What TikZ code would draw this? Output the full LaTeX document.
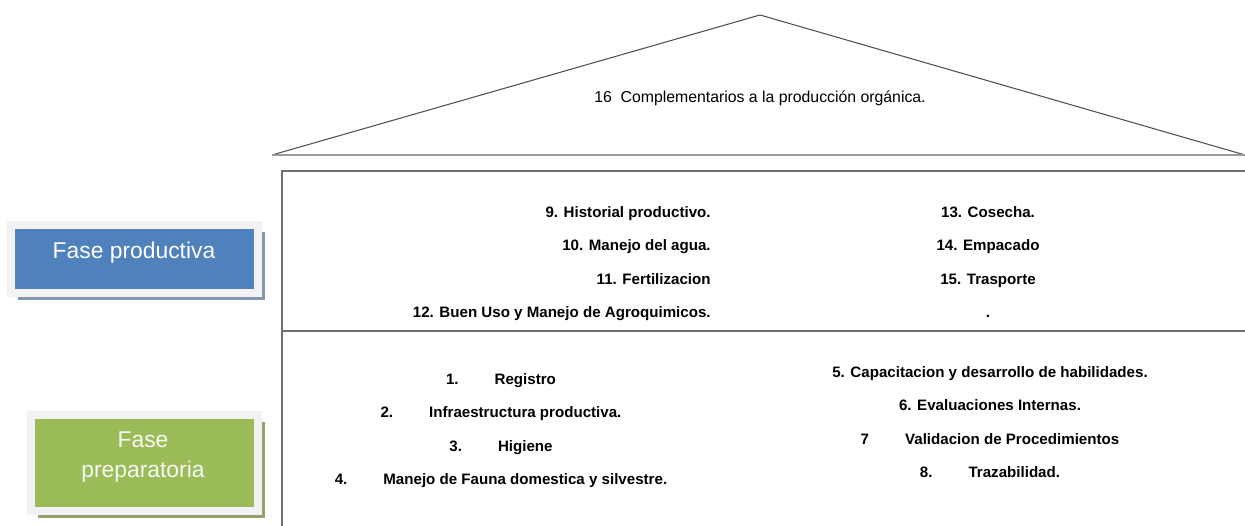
\documentclass[tikz,border=0pt]{standalone}
\usepackage{fontspec}
\setmainfont{Liberation Sans}
\usepackage{tikz}
\usetikzlibrary{positioning, shadows}

\definecolor{faseblue}{HTML}{4F81BD}
\definecolor{fasegreen}{HTML}{9BBB59}
\definecolor{framegray}{HTML}{F2F2F2}
\definecolor{blueshade}{HTML}{8497B0}
\definecolor{greenshade}{HTML}{98A070}
\definecolor{linegray}{HTML}{707070}
\definecolor{eavegray}{HTML}{9A9A9A}
\definecolor{roofgray}{HTML}{505050}

\newcommand{\itemgap}{\hspace{0.72cm}}

\begin{document}
\begin{tikzpicture}[
    x=0.02cm, y=-0.02cm,
    fasebox/.style={draw=framegray, line width=0.16cm, inner sep=0pt},
    fasetext/.style={align=center, font=\fontsize{13}{17}\selectfont},
    rooftext/.style={font=\fontsize{9}{11}\selectfont, inner sep=0pt},
    item/.style={font=\fontsize{8.6}{10}\selectfont\bfseries, inner sep=0pt, text height=7pt, text depth=2pt},
    wall/.style={draw=linegray, line width=0.04cm},
    roofline/.style={draw=roofgray, line width=0.6pt},
    eaveline/.style={draw=eavegray, line width=0.04cm},
    node distance=0.34cm
]

\useasboundingbox (0,0) rectangle (1245,526);

% techo
\coordinate (roofL) at (272,155);
\coordinate (roofT) at (760,15);
\coordinate (roofR) at (1245,155);
\draw[roofline] (roofL) -- (roofT) -- (roofR);
\draw[eaveline] (roofL) -- (roofR);
\node[rooftext] (complement) at (760,98) {16\ \ Complementarios a la producción orgánica.};

% paredes
\coordinate (wallTL) at (282,171);
\coordinate (wallTR) at (1245,171);
\coordinate (wallML) at (282,331);
\coordinate (wallMR) at (1245,331);
\coordinate (wallBL) at (282,526);
\draw[wall] (wallTR) -- (wallTL) -- (wallBL);
\draw[wall] (wallML) -- (wallMR);

% fases
\node[fasebox, fill=faseblue, minimum width=4.94cm, minimum height=1.37cm,
      drop shadow={shadow xshift=0.14cm, shadow yshift=-0.14cm, fill=blueshade, opacity=1}] (prodBox) at (134.5,259) {};
\node[fasetext, text=white] (prodText) at (134,253) {Fase productiva};
\node[fasebox, fill=fasegreen, minimum width=4.54cm, minimum height=1.93cm,
      drop shadow={shadow xshift=0.14cm, shadow yshift=-0.14cm, fill=greenshade, opacity=1}] (prepBox) at (144.5,462.75) {};
\node[fasetext, text=white!92!fasegreen] (prepText) at (143,457) {Fase\\preparatoria};

% fase productiva
\node[item, anchor=east] (historial) at (711,213) {9. Historial productivo.};
\node[item, below=of historial.south east, anchor=north east] (agua) {10. Manejo del agua.};
\node[item, below=of agua.south east, anchor=north east] (fertil) {11. Fertilizacion};
\node[item, below=of fertil.south east, anchor=north east] (agroquim) {12. Buen Uso y Manejo de Agroquimicos.};
\node[item] (cosecha) at (988,213) {13. Cosecha.};
\node[item, below=of cosecha] (empacado) {14. Empacado};
\node[item, below=of empacado] (trasporte) {15. Trasporte};
\node[item, below=of trasporte] (punto) {.};

% fase preparatoria
\node[item] (registro) at (501,380) {1.\itemgap Registro};
\node[item, below=of registro] (infra) {2.\itemgap Infraestructura productiva.};
\node[item, below=of infra] (higiene) {3.\itemgap Higiene};
\node[item, below=of higiene] (fauna) {4.\itemgap Manejo de Fauna domestica y silvestre.};
\node[item] (capacit) at (990,373) {5. Capacitacion y desarrollo de habilidades.};
\node[item, below=of capacit] (evalua) {6. Evaluaciones Internas.};
\node[item, below=of evalua] (valida) {7\itemgap Validacion de Procedimientos};
\node[item, below=of valida] (traza) {8.\itemgap Trazabilidad.};

\end{tikzpicture}
\end{document}
